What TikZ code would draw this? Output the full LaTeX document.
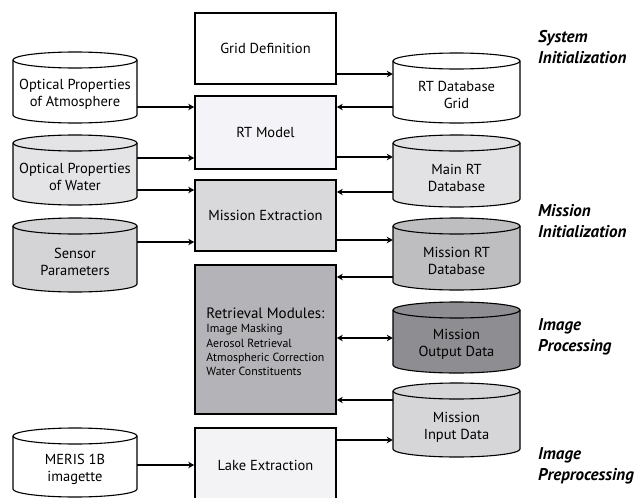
\documentclass[tikz,border=0pt]{standalone}
\usepackage{fontspec}
\setmainfont{PT Sans}
\usetikzlibrary{arrows.meta,calc}
\definecolor{rtmfill}{HTML}{F4F4F8}
\definecolor{mexfill}{HTML}{D9D9DB}
\definecolor{retfill}{HTML}{B4B4B8}
\definecolor{lakefill}{HTML}{F3F3F5}
\definecolor{watfill}{HTML}{E4E4E6}
\definecolor{senfill}{HTML}{D4D4D6}
\definecolor{mrtfill}{HTML}{E2E2E4}
\definecolor{misfill}{HTML}{BEBEC0}
\definecolor{outfill}{HTML}{8E8E92}
\definecolor{inpfill}{HTML}{D6D6D8}
\newcommand\smalltxt{\fontsize{11.8}{14}\selectfont}
\newcommand\bigtxt{\fontsize{15}{17}\selectfont}
\tikzset{
  box/.style={draw=black, line width=1.6pt, minimum width=141pt, inner sep=2pt, align=center, font=\fontsize{14.5}{17}\selectfont},
  cylline/.style={draw=black, line width=1.1pt},
  cyltext/.style={inner sep=0pt, align=center, font=\fontsize{14.5}{17}\selectfont},
  arr/.style={-{Stealth[length=6pt,width=6.5pt]}, line width=1.4pt},
  darr/.style={{Stealth[length=6pt,width=6.5pt]}-{Stealth[length=6pt,width=6.5pt]}, line width=1.4pt},
  lab/.style={font=\fontsize{17}{21}\selectfont\bfseries\itshape, align=left, anchor=west, inner sep=0pt}
}
\newcommand\mycyl[7]{%
  \pgfmathsetmacro\cx{(#2+#4)/2}%
  \pgfmathsetmacro\rx{(#4-#2)/2}%
  \pgfmathsetmacro\cy{(#3+#5)/2+7}%
  \pgfmathsetmacro\hh{#5-#3-16}%
  \pgfmathsetmacro\ww{#4-#2}%
  \filldraw[cylline, fill=#6] (#2,#3+8) -- (#2,#5-8) arc[start angle=180,end angle=360,x radius=\rx pt,y radius=8pt] -- (#4,#3+8) arc[start angle=0,end angle=180,x radius=\rx pt,y radius=8pt] -- cycle;
  \draw[cylline] (#2,#3+8) arc[start angle=180,end angle=360,x radius=\rx pt,y radius=8pt];
  \node[cyltext, minimum width=\ww pt, minimum height=\hh pt] (#1) at (\cx,\cy) {#7};
}
\begin{document}
\begin{tikzpicture}[x=1pt,y=-1pt]
\useasboundingbox (0,0) rectangle (638,498);
\clip (0,0) rectangle (638,498);
% center boxes
\node[box, fill=white, minimum height=71pt] (grid) at (265.5,48.5) {Grid Definition};
\node[box, fill=rtmfill, minimum height=73pt] (rtm) at (265.5,132.5) {RT Model};
\node[box, fill=mexfill, minimum height=71pt] (mex) at (265.5,215.5) {Mission Extraction};
\node[box, fill=retfill, minimum height=149pt] (ret) at (265.5,339.5) {};
\node[font=\smalltxt, inner sep=0pt] (rettxt) at (265.5,344)
  {\renewcommand\arraystretch{1.02}\begin{tabular}{@{}l@{}}
   \bigtxt Retrieval Modules:\\
   \smalltxt Image Masking\\
   \smalltxt Aerosol Retrieval\\
   \smalltxt Atmospheric Correction\\
   \smalltxt Water Constituents
   \end{tabular}};
\node[box, fill=lakefill, minimum height=74pt] (lake) at (265.5,465) {Lake Extraction};
% left cylinders
\mycyl{atm}{13}{52}{137}{123}{white}{Optical Properties\\of Atmosphere}
\mycyl{wat}{13}{135}{137}{205}{watfill}{Optical Properties\\of Water}
\mycyl{sen}{13}{218}{137}{292}{senfill}{Sensor\\Parameters}
\mycyl{mer}{13}{428}{137}{497}{white}{MERIS 1B\\imagette}
% right cylinders
\mycyl{dbg}{393}{53}{520}{123}{white}{RT Database\\Grid}
\mycyl{mrt}{393}{135}{520}{207}{mrtfill}{Main RT\\Database}
\mycyl{mis}{393}{218}{520}{290}{misfill}{Mission RT\\Database}
\mycyl{out}{393}{302}{520}{373}{outfill}{Mission\\Output Data}
\mycyl{inp}{393}{383}{520}{457}{inpfill}{Mission\\Input Data}
% arrows left
\draw[arr] (atm.east |- 0,107) -- (rtm.west |- 0,107);
\draw[arr] (wat.east |- 0,158) -- (rtm.west |- 0,158);
\draw[arr] (wat.east |- 0,190) -- (mex.west |- 0,190);
\draw[arr] (sen.east |- 0,242) -- (mex.west |- 0,242);
\draw[arr] (mer.east |- 0,465) -- (lake.west |- 0,465);
% arrows right
\draw[arr] (grid.east |- 0,74) -- (dbg.west |- 0,74);
\draw[arr] (dbg.west |- 0,107) -- (rtm.east |- 0,107);
\draw[arr] (rtm.east |- 0,157) -- (mrt.west |- 0,157);
\draw[arr] (mrt.west |- 0,192) -- (mex.east |- 0,192);
\draw[arr] (mex.east |- 0,240) -- (mis.west |- 0,240);
\draw[arr] (mis.west |- 0,277) -- (ret.east |- 0,277);
\draw[darr] (ret.east |- 0,338) -- (out.west |- 0,338);
\draw[arr] (inp.west |- 0,400) -- (ret.east |- 0,400);
\draw[arr] (lake.east |- 0,440) -- (inp.west |- 0,440);
% phase labels
\node[lab] (l1) at (538,47) {System\\Initialization};
\node[lab] (l2) at (538,221.5) {Mission\\Initialization};
\node[lab] (l3) at (538,336.5) {Image\\Processing};
\node[lab] (l4) at (538,466) {Image\\Preprocessing};
\end{tikzpicture}
\end{document}
